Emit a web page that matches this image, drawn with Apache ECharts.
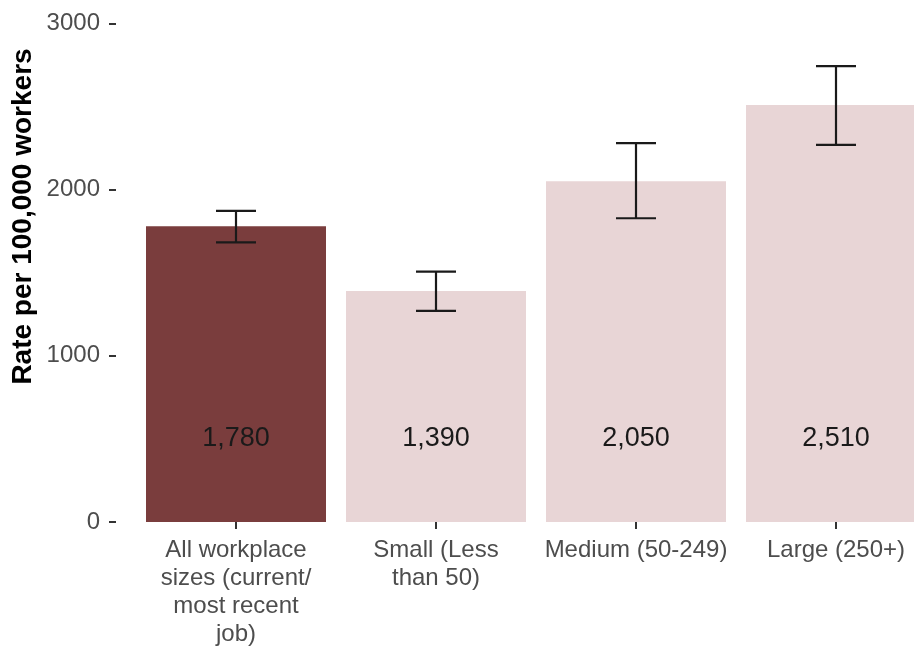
<!DOCTYPE html>
<html>
<head>
<meta charset="utf-8">
<script src="https://cdn.jsdelivr.net/npm/echarts@6/dist/echarts.min.js"></script>
<style>html,body{margin:0;padding:0;background:#fff;overflow:hidden;width:914px;height:649px}#c{width:980px;height:649px}</style>
</head>
<body>
<div id="c"></div>
<script>
const categories = ["All workplace\nsizes (current/\nmost recent\njob)", "Small (Less\nthan 50)", "Medium (50-249)", "Large (250+)"];
const rates = [1780, 1390, 2050, 2510];
const lowerCI = [1683, 1270, 1828, 2270];
const upperCI = [1872, 1507, 2280, 2744];
const barColors = ["#7a3d3d", "#e8d5d6", "#e8d5d6", "#e8d5d6"];
const yTicks = [0, 1000, 2000, 3000];
const yTitle = 'Rate per 100,000 workers';
const labelY = 500;

const FONT = "'Liberation Sans', Arial, sans-serif";
const chart = echarts.init(document.getElementById('c'));
chart.setOption({
  animation: false,
  backgroundColor: '#fff',
  grid: { left: 136, width: 800, top: 23.5, bottom: 127, containLabel: false },
  graphic: [{
    type: 'text', x: 23.5, y: 216.5, rotation: Math.PI / 2,
    style: { text: yTitle, align: 'center', verticalAlign: 'middle', fontFamily: FONT, fontWeight: 'bold', fontSize: 28, fill: '#000' }
  }],
  xAxis: {
    type: 'category', data: categories, boundaryGap: true,
    axisLine: { show: false },
    axisTick: { show: true, alignWithLabel: true, length: 7, lineStyle: { color: '#333', width: 2 } },
    axisLabel: { interval: 0, color: '#4d4d4d', fontFamily: FONT, fontSize: 24, lineHeight: 28, margin: 14 }
  },
  yAxis: {
    type: 'value', min: yTicks[0], max: yTicks[yTicks.length - 1], interval: 1000, offset: 20,
    axisLine: { show: false },
    axisTick: { show: true, length: 7, lineStyle: { color: '#333', width: 2 } },
    axisLabel: { color: '#4d4d4d', fontFamily: FONT, fontSize: 24, margin: 16, formatter: v => String(v) },
    splitLine: { show: false }
  },
  series: [
    {
      type: 'bar', barWidth: '90%',
      data: rates.map((v, i) => ({ value: v, itemStyle: { color: barColors[i] } })),
      silent: true
    },
    {
      type: 'custom',
      data: rates.map((v, i) => [i, lowerCI[i], upperCI[i]]),
      renderItem: function (params, api) {
        const x = api.value(0);
        const lo = api.coord([x, api.value(1)]);
        const hi = api.coord([x, api.value(2)]);
        const hw = 20;
        const st = { stroke: '#1a1a1a', lineWidth: 2.2 };
        return {
          type: 'group',
          children: [
            { type: 'line', shape: { x1: lo[0], y1: lo[1], x2: hi[0], y2: hi[1] }, style: st },
            { type: 'line', shape: { x1: lo[0] - hw, y1: lo[1], x2: lo[0] + hw, y2: lo[1] }, style: st },
            { type: 'line', shape: { x1: hi[0] - hw, y1: hi[1], x2: hi[0] + hw, y2: hi[1] }, style: st }
          ]
        };
      },
      z: 5
    },
    {
      type: 'custom',
      data: rates.map((v, i) => [i, v]),
      renderItem: function (params, api) {
        const p = api.coord([api.value(0), labelY]);
        return {
          type: 'text',
          style: {
            x: p[0], y: p[1], text: api.value(1).toLocaleString('en-US'),
            align: 'center', verticalAlign: 'middle',
            fontFamily: FONT, fontSize: 27, fill: '#1a1a1a'
          }
        };
      },
      z: 6
    }
  ]
});
</script>
</body>
</html>
